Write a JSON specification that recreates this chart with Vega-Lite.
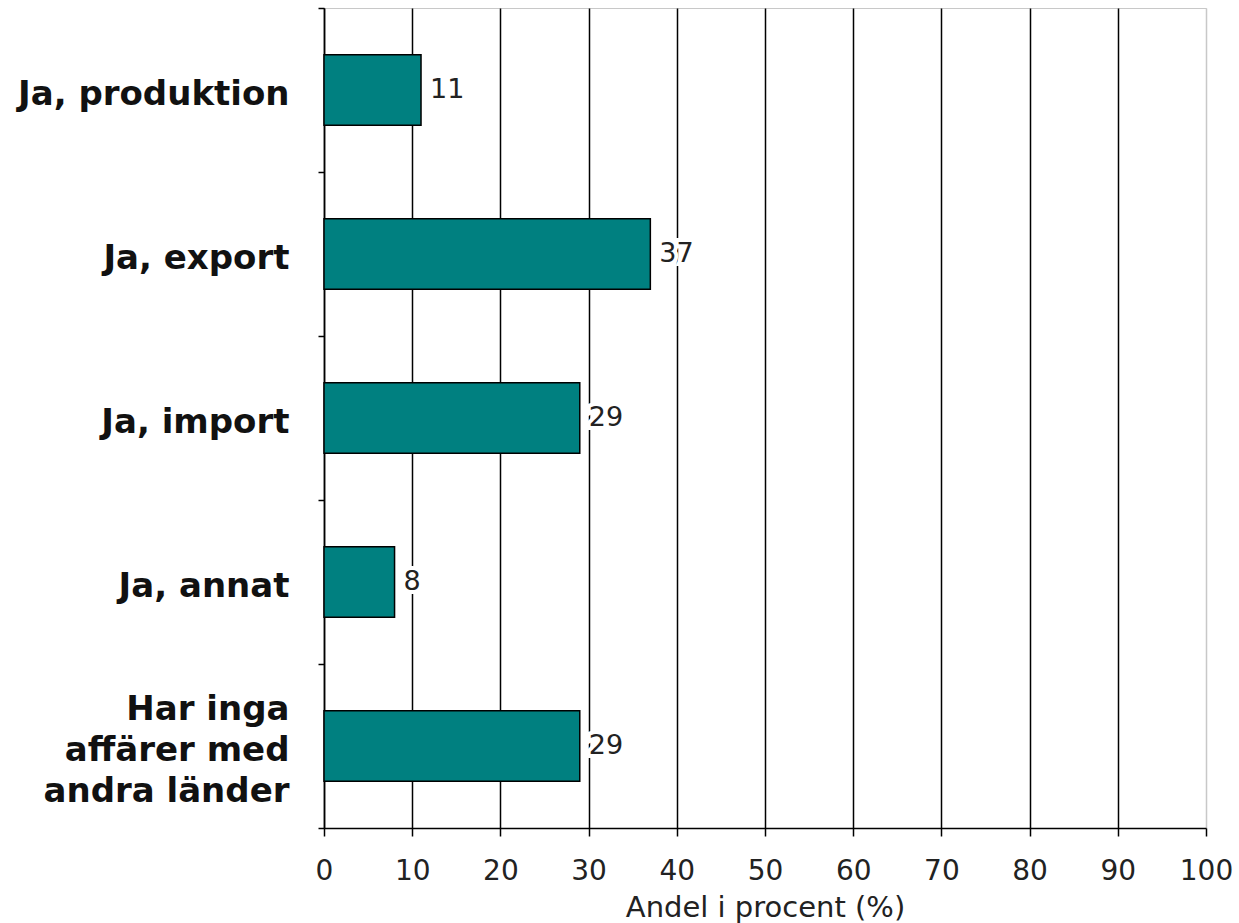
{
  "$schema": "https://vega.github.io/schema/vega-lite/v6.json",
  "width": 882,
  "height": 820,
  "padding": {"left": 17, "top": -9, "right": 5, "bottom": 5},
  "background": "white",
  "config": {
    "view": {"stroke": "#c8c8c8", "strokeWidth": 1},
    "font": "DejaVu Sans"
  },
  "data": {
    "values": [
      {"kategori": "Ja, produktion", "andel": 11},
      {"kategori": "Ja, export", "andel": 37},
      {"kategori": "Ja, import", "andel": 29},
      {"kategori": "Ja, annat", "andel": 8},
      {"kategori": "Har inga|affärer med|andra länder", "andel": 29}
    ]
  },
  "encoding": {
    "y": {
      "field": "kategori",
      "type": "nominal",
      "sort": null,
      "scale": {"paddingInner": 0, "paddingOuter": 0},
      "axis": {
        "title": null,
        "tickBand": "extent",
        "labelExpr": "indexof(datum.label, '|') >= 0 ? split(datum.label, '|') : [' ', datum.label]",
        "labelFont": "DejaVu Sans",
        "labelFontWeight": "bold",
        "labelFontSize": 34,
        "labelColor": "#111",
        "labelLineHeight": 41,
        "labelOffset": -37,
        "labelPadding": 29,
        "labelLimit": 400,
        "tickSize": 6,
        "tickColor": "black",
        "tickWidth": 1.5,
        "domainColor": "black",
        "domainWidth": 1.5,
        "grid": false
      }
    },
    "x": {
      "field": "andel",
      "type": "quantitative",
      "scale": {"domain": [0, 100]},
      "axis": {
        "title": "Andel i procent (%)",
        "titleFont": "DejaVu Sans",
        "titleFontWeight": "normal",
        "titleFontSize": 29,
        "titleColor": "#222",
        "titlePadding": 8,
        "values": [0, 10, 20, 30, 40, 50, 60, 70, 80, 90, 100],
        "labelFlush": false,
        "labelFont": "DejaVu Sans",
        "labelFontSize": 28,
        "labelColor": "#222",
        "labelPadding": 21,
        "tickSize": 8,
        "tickColor": "black",
        "tickWidth": 1.5,
        "domainColor": "black",
        "domainWidth": 1.5,
        "grid": true,
        "gridColor": {"condition": {"test": "datum.value == 100", "value": "#c8c8c8"}, "value": "black"},
        "gridWidth": 1.5,
        "gridOpacity": 1
      }
    }
  },
  "layer": [
    {
      "mark": {"type": "bar", "height": {"band": 0.43}, "fill": "#008080", "stroke": "black", "strokeWidth": 1.5}
    },
    {
      "mark": {"type": "text", "align": "left", "baseline": "middle", "dx": 9, "fontSize": 27, "font": "DejaVu Sans", "stroke": "white", "strokeWidth": 8, "fill": "white"},
      "encoding": {"text": {"field": "andel", "type": "quantitative"}}
    },
    {
      "mark": {"type": "text", "align": "left", "baseline": "middle", "dx": 9, "fontSize": 27, "font": "DejaVu Sans", "fill": "#222"},
      "encoding": {"text": {"field": "andel", "type": "quantitative"}}
    }
  ]
}
